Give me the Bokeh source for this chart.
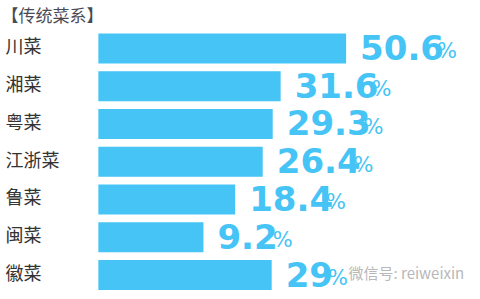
from bokeh.plotting import figure
from bokeh.models import ColumnDataSource, Range1d, Label
from bokeh.core.properties import value
from bokeh.embed import file_html
from bokeh.resources import INLINE

# ---- data ----
categories = ["川菜", "湘菜", "粤菜", "江浙菜", "鲁菜", "闽菜", "徽菜"]
shares = [50.6, 31.6, 29.3, 26.4, 18.4, 9.2, 29]
share_labels = ["50.6", "31.6", "29.3", "26.4", "18.4", "9.2", "29"]
title_text = "【传统菜系】"
watermark_text = "微信号: reiweixin"

BLUE = "#45c4f5"
BASE = -21.3          # infographic baseline (bars do not start at zero)
X0, X1 = -49.7, 89.6
Y_TOP, Y_BOT = -1.2715, 6.649
NUM_PX = 34

def num_width(s):
    w = 0.0
    for ch in s:
        w += 0.38 * NUM_PX if ch == "." else 0.636 * NUM_PX
    return w

idx = list(range(len(categories)))
src = ColumnDataSource(dict(
    y=idx,
    cat=categories,
    val=shares,
    base=[BASE] * len(shares),
    lab=share_labels,
    pct=["%"] * len(shares),
    pct_off=[13 + num_width(s) for s in share_labels],
    lx=[X0] * len(shares),
))

p = figure(width=480, height=299, output_backend="svg", toolbar_location=None,
           x_range=Range1d(X0, X1), y_range=Range1d(Y_BOT, Y_TOP),
           min_border=0, outline_line_color=None)
p.axis.visible = False
p.grid.visible = False
p.background_fill_color = "white"
p.border_fill_color = "white"

p.hbar(y="y", left="base", right="val", height=0.79, source=src,
       fill_color=BLUE, line_color=None)

p.text(x="lx", y="y", text="cat", source=src, x_offset=5, y_offset=-3,
       text_baseline="middle", text_align="left",
       text_font=value("Noto Sans CJK SC"), text_font_size="18px",
       text_color="#333333")

p.text(x="val", y="y", text="lab", source=src, x_offset=14, y_offset=-1,
       text_baseline="alphabetic", text_align="left",
       text_font=value("DejaVu Sans"), text_font_style="bold",
       text_font_size=f"{NUM_PX}px", text_color=BLUE)

p.text(x="val", y="y", text="pct", source=src, x_offset="pct_off", y_offset=3,
       text_baseline="alphabetic", text_align="left",
       text_font=value("DejaVu Sans"), text_font_size="21px",
       text_color=BLUE)

p.add_layout(Label(x=1, y=285, x_units="screen", y_units="screen",
                   text=title_text, text_baseline="middle",
                   text_font="Noto Sans CJK SC", text_font_size="17px",
                   text_color="#4a4a55"))

p.add_layout(Label(x=348, y=27.5, x_units="screen", y_units="screen",
                   text=watermark_text, text_baseline="middle",
                   text_font="Noto Sans CJK SC", text_font_size="15px",
                   text_color="#b8b8b8"))

open("out.html", "w").write(file_html(p, INLINE))
